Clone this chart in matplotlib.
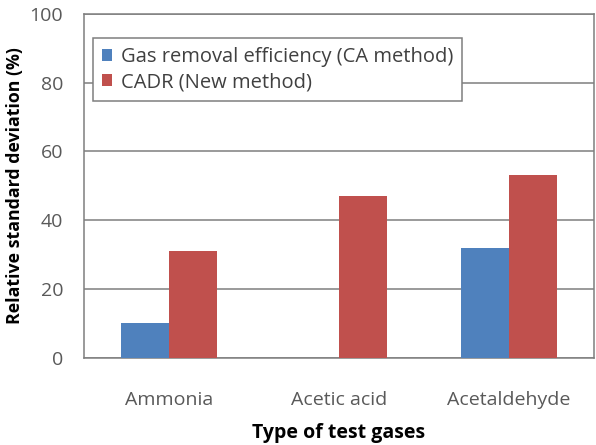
import matplotlib
matplotlib.use("Agg")
import matplotlib.pyplot as plt
import numpy as np

categories = ["Ammonia", "Acetic acid", "Acetaldehyde"]
series_names = ["Gas removal efficiency (CA method)", "CADR (New method)"]
ca_method = [10, 0, 32]
new_method = [31, 47, 53]
yticks = [0, 20, 40, 60, 80, 100]

plt.rcParams['font.family'] = ['Open Sans', 'DejaVu Sans']

fig = plt.figure(figsize=(5.96, 4.45), dpi=100)
ax = fig.add_axes([0.141, 0.1966, 0.8556, 0.7719])

x = np.arange(len(categories))
w = 0.285
blue = '#4F81BD'
red = '#C0504D'
ax.bar(x - w/2, ca_method, width=w, color=blue, label=series_names[0], zorder=3)
ax.bar(x + w/2, new_method, width=w, color=red, label=series_names[1], zorder=3)

ax.set_xlim(-0.5, 2.5)
ax.set_ylim(0, 100)
ax.set_yticks(yticks)
ax.set_xticks(x)
ax.set_xticklabels(categories)
ax.yaxis.grid(True, color='#7f7f7f', linewidth=1.1, zorder=0)
ax.set_axisbelow(True)
for s in ax.spines.values():
    s.set_color('#7f7f7f')
    s.set_linewidth(1.1)
ax.tick_params(axis='both', length=0, labelsize=14, colors='#595959')
ax.tick_params(axis='y', pad=15)
ax.tick_params(axis='x', pad=24)

ax.set_ylabel("Relative standard deviation (%)", fontsize=12.8, fontweight='bold', color='#000000', labelpad=4)
ax.set_xlabel("Type of test gases", fontsize=14, fontweight='bold', color='#000000', labelpad=10)

leg = ax.legend(loc='upper left', bbox_to_anchor=(0.017, 0.930), borderaxespad=0,
                fontsize=14.5, handlelength=0.5, handleheight=0.5, handletextpad=0.45,
                labelspacing=0.25, fancybox=False, framealpha=1, borderpad=0.45)
leg.get_frame().set_edgecolor('#7f7f7f')
leg.get_frame().set_linewidth(1.1)
for t in leg.get_texts():
    t.set_color('#404040')

fig.savefig("out.png", dpi=100)
